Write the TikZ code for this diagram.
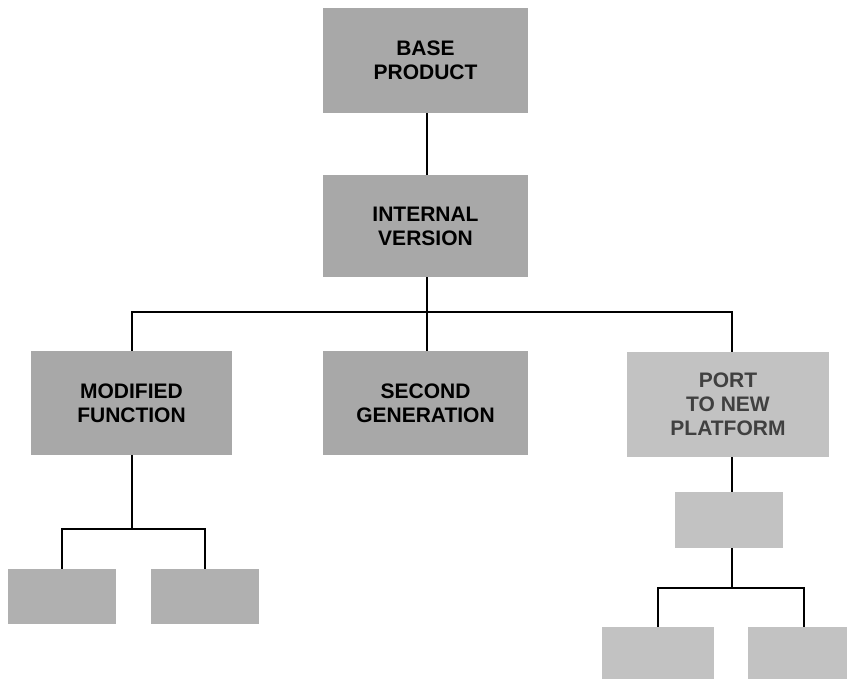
\documentclass[tikz,border=0pt]{standalone}
\usepackage{fontspec}
\setmainfont{Liberation Sans}
\definecolor{boxdark}{gray}{0.66}
\definecolor{boxlight}{gray}{0.76}
\begin{document}
\begin{tikzpicture}[x=1pt,y=1pt,
  box/.style={fill=boxdark, draw=none, inner sep=0pt, align=center,
    font=\fontsize{21}{24}\selectfont\bfseries},
  lightbox/.style={box, fill=boxlight},
  link/.style={draw=black, line width=2.8pt}]
\useasboundingbox (0,0) rectangle (847,-679);
\begin{scope}
\clip (0,0) rectangle (847,-679);
\node[box, minimum width=205, minimum height=105] (base) at (425.5,-60.5) {BASE\\PRODUCT};
\node[box, minimum width=205, minimum height=102] (int) at (425.5,-226) {INTERNAL\\VERSION};
\node[box, minimum width=201, minimum height=104] (mod) at (131.5,-403) {MODIFIED\\FUNCTION};
\node[box, minimum width=205, minimum height=104] (sec) at (425.5,-403) {SECOND\\GENERATION};
\node[lightbox, minimum width=202, minimum height=105, text=black!75] (port) at (728,-404.5) {PORT\\TO NEW\\PLATFORM};
\node[lightbox, minimum width=108, minimum height=56] (sub) at (729,-520) {};
\node[box, fill=gray!62, minimum width=108, minimum height=55] (bl1) at (62,-596.5) {};
\node[box, fill=gray!62, minimum width=108, minimum height=55] (bl2) at (205,-596.5) {};
\node[lightbox, minimum width=112, minimum height=75] (br1) at (658,-664.5) {};
\node[lightbox, minimum width=112, minimum height=75] (br2) at (804,-664.5) {};
\end{scope}
\coordinate (j1) at (427,-312);
\coordinate (j2) at (132,-529);
\coordinate (j3) at (732,-588);
\draw[link] (base.south -| j1) -- (int.north -| j1);
\draw[link] (int.south -| j1) -- (sec.north -| j1);
\draw[link] (mod.north -| j2) |- (j1) -| (port.north -| j3);
\draw[link] (mod.south -| j2) -- (j2);
\draw[link] (bl1.north) |- (j2) -| (bl2.north);
\draw[link] (port.south -| j3) -- (sub.north -| j3);
\draw[link] (sub.south -| j3) -- (j3);
\draw[link] (br1.north) |- (j3) -| (br2.north);
\end{tikzpicture}
\end{document}
